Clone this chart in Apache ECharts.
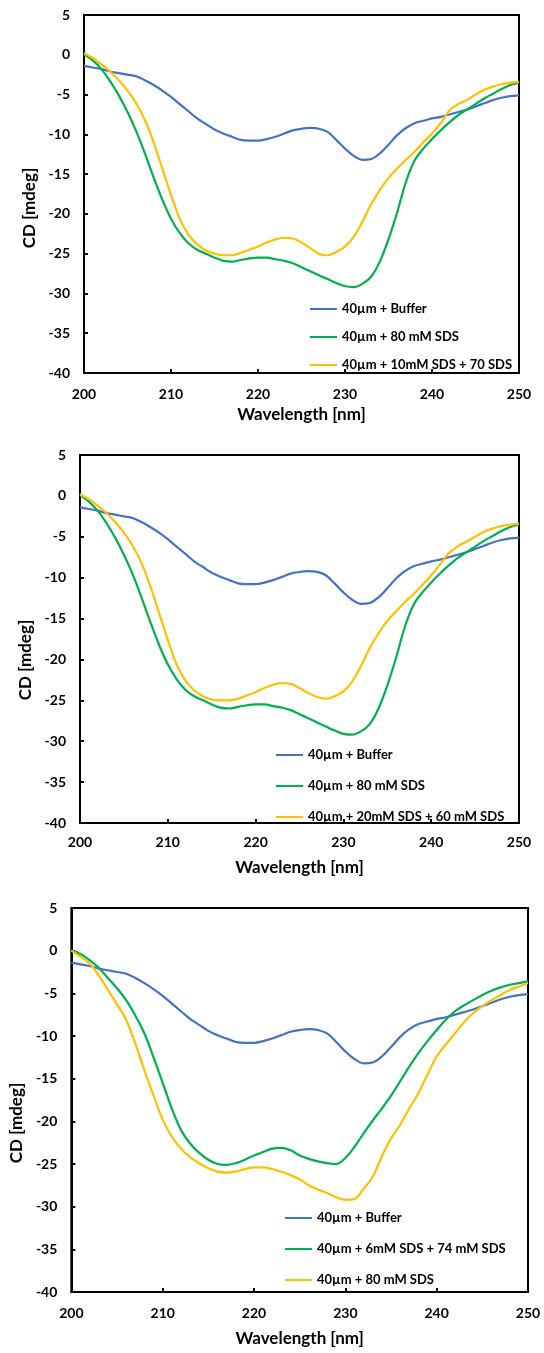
<!DOCTYPE html>
<html>
<head>
<meta charset="utf-8">
<script src="https://cdn.jsdelivr.net/npm/echarts@6/dist/echarts.min.js"></script>
<style>
  body { margin: 0; background: #fff; }
  .c { position: absolute; left: 0; width: 544px; }
</style>
</head>
<body>
<div id="chart_1" class="c" style="top:0;height:440px"></div>
<div id="chart_2" class="c" style="top:440px;height:450px"></div>
<div id="chart_3" class="c" style="top:890px;height:463px"></div>
<script>
const wavelength = [200, 201, 202, 203, 204, 205, 206, 207, 208, 209,
  210, 211, 212, 213, 214, 215, 216, 217, 218, 219,
  220, 221, 222, 223, 224, 225, 226, 227, 228, 229,
  230, 231, 232, 233, 234, 235, 236, 237, 238, 239,
  240, 241, 242, 243, 244, 245, 246, 247, 248, 249, 250];

const xTicks = [200, 210, 220, 230, 240, 250];
const yTicks = [5, 0, -5, -10, -15, -20, -25, -30, -35, -40];

// 40µm + Buffer (same trace on all three plots)
const buffer = [-1.4, -1.6, -1.8, -2.1, -2.3, -2.5, -2.7, -3.2, -3.8, -4.5,
  -5.3, -6.2, -7.1, -8.0, -8.7, -9.4, -9.9, -10.3, -10.7, -10.8,
  -10.8, -10.6, -10.3, -9.9, -9.5, -9.3, -9.2, -9.3, -9.7, -10.7,
  -11.8, -12.7, -13.2, -13.1, -12.4, -11.3, -10.1, -9.2, -8.6, -8.3,
  -8.0, -7.8, -7.5, -7.2, -6.9, -6.5, -6.1, -5.7, -5.4, -5.2, -5.1];

// 40µm + 80 mM SDS (plots 1 and 2)
const sds80 = [0.1, -0.7, -1.8, -3.3, -5.1, -7.2, -9.6, -12.4, -15.4, -18.2,
  -20.6, -22.4, -23.7, -24.5, -25.0, -25.5, -25.9, -26.0, -25.8, -25.6,
  -25.5, -25.5, -25.7, -25.9, -26.2, -26.7, -27.2, -27.7, -28.2, -28.7,
  -29.1, -29.2, -28.8, -27.9, -26.0, -23.2, -19.8, -16.0, -13.3, -11.8,
  -10.6, -9.5, -8.5, -7.6, -6.9, -6.2, -5.5, -4.9, -4.3, -3.8, -3.5];

// 40µm + 10mM SDS + 70 SDS (plot 1)
const sds10_70 = [0.2, -0.4, -1.2, -2.1, -3.2, -4.5, -6.1, -8.2, -11.0, -14.3,
  -17.6, -20.6, -22.6, -23.8, -24.6, -25.0, -25.2, -25.2, -24.9, -24.5,
  -24.1, -23.6, -23.2, -23.0, -23.1, -23.6, -24.3, -25.0, -25.2, -24.8,
  -24.1, -22.9, -21.0, -18.8, -17.0, -15.5, -14.3, -13.2, -12.2, -11.0,
  -9.9, -8.6, -7.0, -6.2, -5.7, -5.0, -4.4, -4.0, -3.7, -3.5, -3.4];

// 40µm + 20mM SDS + 60 mM SDS (plot 2)
const sds20_60 = [0.2, -0.4, -1.2, -2.1, -3.2, -4.5, -6.1, -8.2, -11.0, -14.3,
  -17.6, -20.6, -22.6, -23.8, -24.5, -24.9, -25.0, -25.0, -24.8, -24.4,
  -24.0, -23.5, -23.1, -22.9, -23.0, -23.5, -24.1, -24.6, -24.8, -24.5,
  -23.9, -22.7, -20.8, -18.6, -16.8, -15.3, -14.1, -13.0, -12.0, -10.9,
  -9.7, -8.4, -7.0, -6.2, -5.6, -5.0, -4.4, -4.0, -3.7, -3.5, -3.4];

// 40µm + 6mM SDS + 74 mM SDS (plot 3)
const sds6_74 = [0.0, -0.4, -1.1, -2.0, -3.2, -4.4, -5.8, -7.6, -9.7, -12.5,
  -15.5, -18.5, -21.0, -22.6, -23.7, -24.5, -25.0, -25.1, -24.9, -24.5,
  -24.0, -23.6, -23.2, -23.1, -23.4, -24.0, -24.4, -24.7, -24.9, -25.0,
  -24.3, -23.0, -21.4, -19.9, -18.5, -17.0, -15.3, -13.6, -12.0, -10.6,
  -9.3, -8.1, -7.1, -6.4, -5.8, -5.2, -4.7, -4.3, -4.0, -3.8, -3.6];

// 40µm + 80 mM SDS (plot 3)
const sds80b = [0.0, -0.7, -1.5, -2.9, -4.6, -6.3, -8.1, -10.9, -14.0, -17.0,
  -19.8, -21.8, -23.2, -24.2, -24.9, -25.5, -25.9, -26.0, -25.9, -25.6,
  -25.4, -25.4, -25.6, -25.9, -26.3, -26.8, -27.5, -28.0, -28.4, -28.9,
  -29.2, -29.1, -27.9, -26.5, -24.1, -22.0, -20.4, -18.5, -16.7, -14.5,
  -12.4, -11.0, -9.7, -8.4, -7.3, -6.5, -5.8, -5.2, -4.6, -4.2, -3.8];

const BLUE = "#4472C4";
const GREEN = "#00B050";
const YELLOW = "#FFC000";
const FONT = "Lato";

const pairs = (ys) => wavelength.map((x, i) => [x, ys[i]]);

const makeOption = (cfg) => ({
  animation: false,
  grid: {
    left: cfg.grid[0], top: cfg.grid[1], right: cfg.grid[2], bottom: cfg.grid[3],
    show: true, borderColor: "#000", borderWidth: 2,
  },
  legend: {
    orient: "vertical",
    left: cfg.legend[0],
    top: cfg.legend[1],
    itemGap: cfg.legend[2],
    icon: "rect",
    itemWidth: 27,
    itemHeight: 2,
    textStyle: { fontFamily: FONT, fontWeight: "bold", fontSize: 13, color: "#000", lineHeight: 16 },
    data: cfg.series.map((s) => s.name),
  },
  xAxis: {
    type: "value",
    min: xTicks[0],
    max: xTicks[xTicks.length - 1],
    interval: 10,
    name: "Wavelength [nm]",
    nameLocation: "middle",
    nameGap: cfg.xNameGap,
    nameTextStyle: { fontFamily: FONT, fontWeight: "bold", fontSize: 17, color: "#000" },
    axisLine: { onZero: false, lineStyle: { color: "#000", width: 2 } },
    axisTick: { inside: true, length: 4, lineStyle: { color: "#000", width: 2 } },
    axisLabel: { fontFamily: FONT, fontWeight: "bold", fontSize: 14, color: "#000", margin: cfg.xLabelMargin },
    splitLine: { show: false },
  },
  yAxis: {
    type: "value",
    min: yTicks[yTicks.length - 1],
    max: yTicks[0],
    interval: 5,
    name: "CD [mdeg]",
    nameLocation: "middle",
    nameGap: cfg.yNameGap,
    nameRotate: 90,
    nameTextStyle: { fontFamily: FONT, fontWeight: "bold", fontSize: 17, color: "#000", padding: [0, cfg.yNameShift, 0, 0] },
    axisLine: { onZero: false, lineStyle: { color: "#000", width: 2 } },
    axisTick: { inside: true, length: 4, lineStyle: { color: "#000", width: 2 } },
    axisLabel: { fontFamily: FONT, fontWeight: "bold", fontSize: 14, color: "#000", margin: 14 },
    splitLine: { show: false },
  },
  series: cfg.series.map((s) => ({
    name: s.name,
    type: "line",
    data: pairs(s.data),
    smooth: 0.35,
    symbol: "none",
    color: s.color,
    lineStyle: { width: 2.2, color: s.color },
  })),
});

const chart1 = echarts.init(document.getElementById("chart_1"));
const chart2 = echarts.init(document.getElementById("chart_2"));
const chart3 = echarts.init(document.getElementById("chart_3"));

chart1.setOption(makeOption({
  grid: [84, 15, 25, 67],
  legend: [305, 296, 12],
  xNameGap: 32, xLabelMargin: 14, yNameGap: 40, yNameShift: 28,
  series: [
    { name: "40µm + Buffer", data: buffer, color: BLUE },
    { name: "40µm + 80 mM SDS", data: sds80, color: GREEN },
    { name: "40µm + 10mM SDS + 70 SDS", data: sds10_70, color: YELLOW },
  ],
}));

chart2.setOption(makeOption({
  grid: [80, 15, 25, 67],
  legend: [271, 302, 15],
  xNameGap: 36, xLabelMargin: 12, yNameGap: 38, yNameShift: 42,
  series: [
    { name: "40µm + Buffer", data: buffer, color: BLUE },
    { name: "40µm + 80 mM SDS", data: sds80, color: GREEN },
    { name: "40µm + 20mM SDS + 60 mM SDS", data: sds20_60, color: YELLOW },
  ],
}));

chart3.setOption(makeOption({
  grid: [71, 18, 16, 61],
  legend: [280, 315, 15],
  xNameGap: 38, xLabelMargin: 14, yNameGap: 40, yNameShift: 46,
  series: [
    { name: "40µm + Buffer", data: buffer, color: BLUE },
    { name: "40µm + 6mM SDS + 74 mM SDS", data: sds6_74, color: GREEN },
    { name: "40µm + 80 mM SDS", data: sds80b, color: YELLOW },
  ],
}));
</script>
</body>
</html>
